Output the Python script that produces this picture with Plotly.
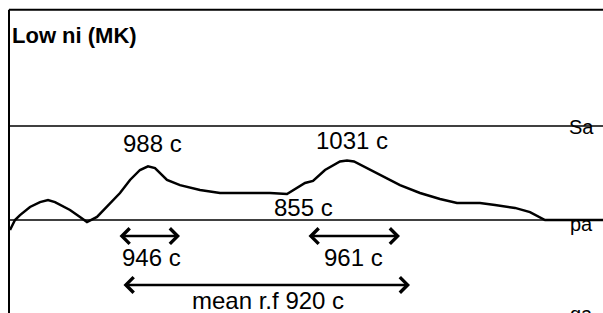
import plotly.graph_objects as go

# pitch contour: time (s) vs pitch (cents above lower Sa)
time_s = [0.01, 0.03, 0.06, 0.11, 0.21, 0.31, 0.39, 0.46, 0.61, 0.71, 0.78, 0.88, 1.01, 1.11,
          1.21, 1.31, 1.39, 1.46, 1.58, 1.71, 1.91, 2.11, 2.36, 2.61, 2.78, 2.88, 2.96, 3.04,
          3.16, 3.31, 3.38, 3.45, 3.56, 3.71, 3.91, 4.11, 4.31, 4.48, 4.71, 4.86, 5.06, 5.21,
          5.31, 5.36, 5.94]
pitch_c = [649, 670, 702, 728, 771, 797, 808, 797, 755, 718, 691, 718, 792, 845,
           914, 967, 986, 977, 914, 887, 861, 845, 845, 845, 840, 872, 898, 909,
           967, 1012, 1017, 1012, 983, 940, 887, 845, 813, 792, 792, 781, 766, 744,
           718, 702, 702]

swara_names = ["Sa", "pa", "ga"]
swara_cents = [1200, 702, 230]

peak_labels = ["988 c", "1031 c", "855 c"]
peak_t = [1.43, 3.43, 2.94]
peak_c = [1105, 1121, 766]

span_labels = ["946 c", "961 c", "mean r.f 920 c"]

FONT = "Liberation Sans, Arial, sans-serif"

fig = go.Figure()
fig.add_trace(go.Scatter(x=time_s, y=pitch_c, mode="lines",
                         line=dict(color="black", width=2.5), hoverinfo="skip",
                         showlegend=False))

X0, X1 = -0.09, 5.94
Y0, Y1 = 209.3, 1867.6

shapes = []
# frame: top and left
shapes.append(dict(type="line", xref="x", yref="y", x0=0.0, x1=X1, y0=1816, y1=1816,
                   line=dict(color="black", width=2)))
shapes.append(dict(type="line", xref="x", yref="y", x0=0.0, x1=0.0, y0=Y0, y1=1816,
                   line=dict(color="black", width=2)))
for name, c in zip(swara_names[:2], swara_cents[:2]):
    shapes.append(dict(type="line", xref="x", yref="y", x0=0.0, x1=X1, y0=c, y1=c,
                       line=dict(color="black", width=1.3)))

ann = []
ann.append(dict(x=0.01, y=1682, xref="x", yref="y", text="<b>Low ni (MK)</b>",
                showarrow=False, xanchor="left", yanchor="middle",
                font=dict(family=FONT, size=22, color="black")))
for name, c in zip(swara_names[:2], [1197, 681]):
    ann.append(dict(x=5.72, y=c, xref="x", yref="y", text=name, showarrow=False,
                    xanchor="center", yanchor="middle",
                    font=dict(family=FONT, size=20, color="black")))
# lower swara label sits just at the bottom edge of the view
ann.append(dict(x=5.72, y=-0.004, xref="x", yref="paper", text=swara_names[2],
                showarrow=False, xanchor="center", yanchor="middle",
                font=dict(family=FONT, size=20, color="black")))
for lab, t, c in zip(peak_labels, peak_t, peak_c):
    ann.append(dict(x=t, y=c, xref="x", yref="y", text=lab, showarrow=False,
                    xanchor="center", yanchor="middle",
                    font=dict(family=FONT, size=24, color="black")))

spans = [(1.09, 1.71, 617, 1.42, 506), (2.98, 3.91, 617, 3.44, 506),
         (1.13, 4.01, 358, 2.59, 278)]
for lab, (a, b, yc, tx, ty) in zip(span_labels, spans):
    ann.append(dict(x=b, y=yc, ax=a, ay=yc, xref="x", yref="y", axref="x", ayref="y",
                    text="", showarrow=True, arrowhead=4, startarrowhead=4,
                    arrowside="end+start", arrowsize=1.2, startarrowsize=1.2,
                    arrowwidth=2.5, arrowcolor="black"))
    ann.append(dict(x=tx, y=ty, xref="x", yref="y", text=lab, showarrow=False,
                    xanchor="center", yanchor="middle",
                    font=dict(family=FONT, size=24, color="black")))

fig.update_layout(
    width=603, height=313, margin=dict(l=0, r=0, t=0, b=0),
    paper_bgcolor="white", plot_bgcolor="white",
    xaxis=dict(range=[X0, X1], visible=False, fixedrange=True),
    yaxis=dict(range=[Y0, Y1], visible=False, fixedrange=True),
    shapes=shapes, annotations=ann, showlegend=False,
)
fig.write_html("out.html", config={"displayModeBar": False},
               post_script="document.body.style.margin='0';document.body.style.overflow='hidden';")
